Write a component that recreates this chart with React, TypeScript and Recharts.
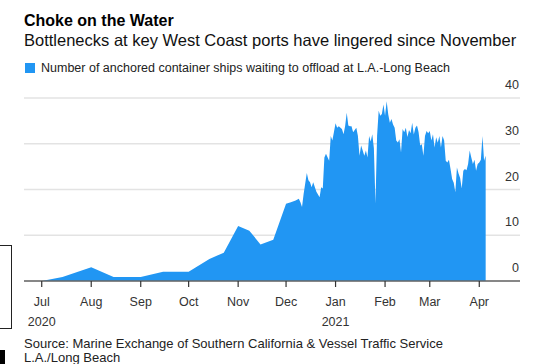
import React from 'react';
import { AreaChart, Area, XAxis, YAxis, CartesianGrid } from 'recharts';

// Days since Jul 1, 2020
const dayOffsets = [
  0, 13, 31, 45, 62, 76, 92, 105, 114, 123, 130, 137, 145, 153, 156, 159, 161, 162, 163, 164,
  166, 167, 168, 169, 170, 172, 174, 175, 176, 177, 178, 180, 181, 182, 184, 185, 186, 188, 189, 190,
  191, 192, 193, 194, 195, 197, 198, 199, 200, 201, 202, 203, 204, 205, 206, 207, 208, 209, 210, 211,
  212, 213, 214, 215, 216, 217, 218, 219, 220, 221, 222, 223, 224, 225, 226, 227, 228, 229, 230, 231,
  232, 233, 234, 235, 236, 237, 238, 239, 240, 241, 242, 243, 244, 245, 246, 247, 248, 249, 250, 251,
  252, 253, 254, 255, 256, 257, 258, 259, 260, 261, 262, 263, 264, 265, 266, 267, 268, 269, 270, 271,
  272, 273, 274, 275, 276, 277, 278,
];

// Number of anchored container ships waiting
const shipCounts = [
  0, 0.9, 3, 0.9, 0.9, 2, 2, 4.8, 6.2, 12, 11, 8, 9, 16.9, 17.2, 17.6, 18, 17.2, 16.2, 19,
  23.6, 22, 21.6, 20.5, 21.6, 19.5, 18.3, 20.5, 20.2, 27, 27.8, 26.3, 31.7, 30.7, 34.5, 33.5, 33.8, 33.2, 32.1, 33.9,
  36.8, 34, 33.8, 33.8, 32.5, 33.5, 31.7, 27.4, 29.6, 28.5, 27.4, 28.5, 27, 31.7, 30.5, 32.1, 29, 16.9, 31.7, 37.2,
  36.1, 36.5, 38.6, 36.1, 39.3, 36.4, 34.6, 35.4, 34.2, 33.5, 30.7, 30.3, 31, 28.1, 33.2, 32.5, 33.5, 31.5, 33, 32.3,
  34.6, 32, 33.5, 34, 32.5, 29.6, 29.9, 27.4, 31.7, 32.8, 32.3, 32.8, 30.7, 32.1, 29.2, 31.4, 30.2, 31.7, 29.2, 31.7,
  30.7, 26.3, 25.9, 26.5, 24.5, 22.3, 21.5, 19.4, 24.8, 23.5, 22.5, 20.2, 24.1, 24.5, 24.2, 25.6, 28.5, 27, 25.6, 26.5,
  24.1, 25.6, 25.9, 26.5, 31.7, 26.3, 27.4,
];

const monthTickDays = [0, 31, 62, 92, 123, 153, 184, 215, 243, 274];
const monthLabels = ['Jul', 'Aug', 'Sep', 'Oct', 'Nov', 'Dec', 'Jan', 'Feb', 'Mar', 'Apr'];
const yearLabels = ['2020', '', '', '', '', '', '2021', '', '', ''];
const yTicks = [0, 10, 20, 30, 40];

const data = dayOffsets.map((d, i) => ({ d, v: shipCounts[i] }));

const FONT = '"Liberation Sans", Arial, Helvetica, sans-serif';

const XTick = (props: any) => {
  const { x, y, payload } = props;
  const i = monthTickDays.indexOf(payload.value);
  return (
    <g>
      <text x={x} y={y} dy={17} textAnchor="middle" fontSize={12.5} fill="#333" fontFamily={FONT}>
        {monthLabels[i]}
      </text>
      {yearLabels[i] ? (
        <text x={x} y={y} dy={37} textAnchor="middle" fontSize={12.5} fill="#333" fontFamily={FONT}>
          {yearLabels[i]}
        </text>
      ) : null}
    </g>
  );
};

const YTick = (props: any) => {
  const { x, y, payload } = props;
  return (
    <text x={x - 1} y={y} dy={-9} textAnchor="end" fontSize={12.5} fill="#333" fontFamily={FONT}>
      {payload.value}
    </text>
  );
};

export default function App() {
  return (
    <div
      style={{
        position: 'absolute',
        left: 0,
        top: 0,
        width: 541,
        height: 364,
        background: '#fff',
        overflow: 'hidden',
        fontFamily: FONT,
      }}
    >
      <div style={{ position: 'absolute', left: 24, top: 12.5, fontSize: 16, lineHeight: '16px', fontWeight: 700, color: '#000', whiteSpace: 'nowrap' }}>
        Choke on the Water
      </div>
      <div style={{ position: 'absolute', left: 24, top: 32, fontSize: 16.5, lineHeight: '16.5px', color: '#111', whiteSpace: 'nowrap' }}>
        Bottlenecks at key West Coast ports have lingered since November
      </div>
      <div style={{ position: 'absolute', left: 25, top: 63, width: 10, height: 10, background: '#2196f3' }} />
      <div style={{ position: 'absolute', left: 41, top: 62.4, fontSize: 12.5, lineHeight: '12.5px', color: '#222', whiteSpace: 'nowrap' }}>
        Number of anchored container ships waiting to offload at L.A.-Long Beach
      </div>

      <div style={{ position: 'absolute', left: 0, top: 0 }}>
        <AreaChart width={541} height={364} data={data} margin={{ top: 98, right: 0, bottom: 53, left: 24 }}>
          <CartesianGrid horizontal vertical={false} stroke="#e3e3e3" strokeWidth={1.5} />
          <XAxis
            dataKey="d"
            type="number"
            domain={[-11.1, 299.5]}
            ticks={monthTickDays}
            interval={0}
            height={30}
            axisLine={{ stroke: '#666', strokeWidth: 1.5 }}
            tickLine={{ stroke: '#333', strokeWidth: 1.2 }}
            tickSize={6}
            tickMargin={2}
            tick={<XTick />}
            allowDataOverflow
          />
          <YAxis
            orientation="right"
            type="number"
            domain={[0, 40]}
            ticks={yTicks}
            interval={0}
            width={21}
            axisLine={false}
            tickLine={false}
            tickSize={0}
            tickMargin={0}
            tick={<YTick />}
            allowDataOverflow
          />
          <Area
            type="linear"
            dataKey="v"
            stroke="none"
            fill="#2196f3"
            fillOpacity={1}
            isAnimationActive={false}
            dot={false}
            activeDot={false}
          />
        </AreaChart>
      </div>

      <div style={{ position: 'absolute', left: 24, top: 336.5, fontSize: 13, lineHeight: '14px', color: '#222', whiteSpace: 'nowrap' }}>
        Source: Marine Exchange of Southern California &amp; Vessel Traffic Service
        <br />
        L.A./Long Beach
      </div>

      <div style={{ position: 'absolute', left: -1, top: 245, width: 11, height: 82, border: '1px solid #222' }} />
      <div style={{ position: 'absolute', left: 0, top: 350, width: 5, height: 14, background: '#000' }} />
    </div>
  );
}
